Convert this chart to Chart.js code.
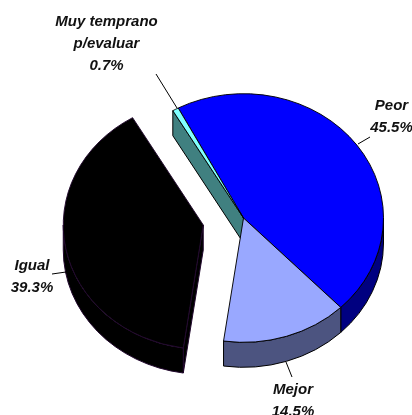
<!DOCTYPE html>
<html><head><meta charset="utf-8">
<style>html,body{margin:0;padding:0;background:#fff}canvas{display:block}</style>
<script src="https://cdn.jsdelivr.net/npm/chart.js@4"></script>
</head><body><canvas id="c" width="412" height="415"></canvas>
<script>
const categories = ['Peor', 'Mejor', 'Igual', 'Muy temprano\np/evaluar'];
const values = [45.5, 14.5, 39.3, 0.7];
const topColors = ['#0000FF', '#99A8FF', '#000000', '#80FFFF'];
const sideColors = ['#000080', '#4C5480', '#000000', '#408080'];
const edgeColors = ['#000000', '#000000', '#22082E', '#000000'];
const explode = [0, 0, 41, 0];
const labelSpots = [[391.5, 106], [293, 389.5], [32, 266], [106.5, 21.5]];
const leaders = [[[358,144],[370,137]], [[292,377],[286,362]], [[52,274],[66,272]], [[156,74],[177,108]]];
const squash = 0.888, depth = 25;

const pie3d = {
  id: 'pie3d',
  afterDatasetsUpdate(chart) {
    // pull the slices out along their mid-angle
    chart.getDatasetMeta(0).data.forEach((a, i) => {
      const mid = (a.startAngle + a.endAngle) / 2;
      a.x += Math.cos(mid) * explode[i];
      a.y += Math.sin(mid) * explode[i];
    });
  },
  beforeDatasetsDraw(chart) {
    const ctx = chart.ctx, arcs = chart.getDatasetMeta(0).data;
    const cy = arcs[0].y;
    arcs.forEach((a, i) => {
      const x = a.x, y = cy + (a.y - cy) * squash, r = a.outerRadius;
      const pt = t => [x + Math.cos(t) * r, y + Math.sin(t) * r * squash];
      ctx.lineWidth = 1; ctx.lineJoin = 'round';
      ctx.fillStyle = sideColors[i]; ctx.strokeStyle = edgeColors[i];
      // cut face at the start of the slice, seen where the neighbour is pulled out
      if (i === 3 || i === 2) {
        const p = pt(a.startAngle);
        ctx.beginPath(); ctx.moveTo(x, y); ctx.lineTo(p[0], p[1]);
        ctx.lineTo(p[0], p[1] + depth); ctx.lineTo(x, y + depth); ctx.closePath();
        ctx.fill(); ctx.stroke();
      }
      // rim: the part of the outer edge on the near half of the ellipse
      let t0 = a.startAngle, t1 = a.endAngle;
      while (t1 > Math.PI * 2) { t0 -= Math.PI * 2; t1 -= Math.PI * 2; }
      const from = Math.max(t0, 0), to = Math.min(t1, Math.PI);
      if (to > from) {
        ctx.beginPath();
        ctx.ellipse(x, y, r, r * squash, 0, from, to);
        ctx.lineTo(pt(to)[0], pt(to)[1] + depth);
        ctx.ellipse(x, y + depth, r, r * squash, 0, to, from, true);
        ctx.closePath(); ctx.fill(); ctx.stroke();
      }
    });
    ctx.save();
    ctx.translate(0, cy); ctx.scale(1, squash); ctx.translate(0, -cy);
  },
  afterDatasetsDraw(chart) {
    const ctx = chart.ctx;
    ctx.restore();
    ctx.strokeStyle = '#000'; ctx.lineWidth = 1;
    leaders.forEach(l => { ctx.beginPath(); ctx.moveTo(l[0][0], l[0][1]); ctx.lineTo(l[1][0], l[1][1]); ctx.stroke(); });
    ctx.fillStyle = '#111'; ctx.textAlign = 'center'; ctx.textBaseline = 'middle';
    ctx.font = 'italic bold 15px "Liberation Sans", Arial, sans-serif';
    categories.forEach((c, i) => {
      const lines = c.split('\n').concat(values[i].toFixed(1) + '%');
      lines.forEach((t, j) => ctx.fillText(t, labelSpots[i][0], labelSpots[i][1] + j * 22));
    });
  }
};
new Chart(document.getElementById('c'), {
  type: 'pie',
  data: { labels: categories, datasets: [{
    data: values, backgroundColor: topColors, borderColor: edgeColors, borderWidth: 1,
    clip: false, borderAlign: 'center'
  }]},
  options: {
    responsive: false, animation: false, rotation: -27.8, radius: 140,
    layout: { padding: { left: 75, top: 21 } },
    plugins: { legend: { display: false }, tooltip: { enabled: false } }
  },
  plugins: [pie3d]
});
</script></body></html>
